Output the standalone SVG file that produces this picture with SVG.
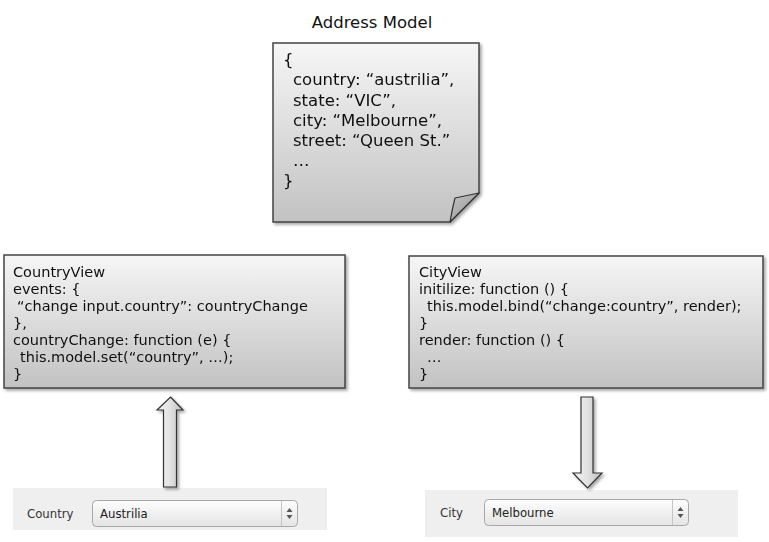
<svg xmlns="http://www.w3.org/2000/svg" width="769" height="542" viewBox="0 0 769 542">
<defs>
<linearGradient id="gBox" x1="0" y1="0" x2="0" y2="1">
<stop offset="0" stop-color="#f6f6f6"/>
<stop offset="1" stop-color="#c2c2c2"/>
</linearGradient>
<linearGradient id="gFold" x1="0" y1="0" x2="1" y2="1">
<stop offset="0" stop-color="#c8c8c8"/>
<stop offset="1" stop-color="#8e8e8e"/>
</linearGradient>
<linearGradient id="gArrow" x1="0" y1="0" x2="1" y2="0">
<stop offset="0" stop-color="#f4f4f4"/>
<stop offset="0.5" stop-color="#e2e2e2"/>
<stop offset="1" stop-color="#bdbdbd"/>
</linearGradient>
<linearGradient id="gSel" x1="0" y1="0" x2="0" y2="1">
<stop offset="0" stop-color="#fdfdfd"/>
<stop offset="1" stop-color="#e4e4e4"/>
</linearGradient>
<filter id="shadow" x="-5%" y="-5%" width="115%" height="115%">
<feGaussianBlur in="SourceAlpha" stdDeviation="1.5"/>
<feOffset dx="1.5" dy="1.5" result="b"/>
<feComponentTransfer><feFuncA type="linear" slope="0.35"/></feComponentTransfer>
<feMerge><feMergeNode/><feMergeNode in="SourceGraphic"/></feMerge>
</filter>
</defs>
<style>
.box{fill:url(#gBox);stroke:#444;stroke-width:1.5}
.t{font-family:"DejaVu Sans",Verdana,sans-serif;fill:#111}
.note{font-size:16.5px}
.code{font-size:14.5px}
.title{font-size:16.5px;fill:#111}
.arrow{fill:url(#gArrow);stroke:#333;stroke-width:1.2;stroke-linejoin:miter}
.panel{fill:#efefef}
.sel{fill:url(#gSel);stroke:#a8a8a8;stroke-width:1}
.lbl{font-family:"DejaVu Sans",Verdana,sans-serif;font-size:11.7px;fill:#333}
.val{font-family:"DejaVu Sans",Verdana,sans-serif;font-size:11.7px;fill:#222}
.sep{stroke:#c4c4c4;stroke-width:1}
.step{fill:#555}
</style>

<g id="title">
<text class="t title" x="372" y="28" text-anchor="middle">Address Model</text>
</g>

<g id="address-model" filter="url(#shadow)">
<path class="box" d="M273,43 H479 V193 L450,222 H273 Z"/>
<path d="M479,193 L455,198 Q452,210 450,222 Z" fill="url(#gFold)" stroke="#333" stroke-width="1.2" stroke-linejoin="round"/>
<text class="t note" x="283" y="65">{</text>
<text class="t note" x="293" y="85">country: “austrilia”,</text>
<text class="t note" x="293" y="106">state: “VIC”,</text>
<text class="t note" x="293" y="126">city: “Melbourne”,</text>
<text class="t note" x="293" y="146">street: “Queen St.”</text>
<text class="t note" x="293" y="166">…</text>
<text class="t note" x="283" y="186">}</text>
</g>

<g id="country-view" filter="url(#shadow)">
<rect class="box" x="4" y="255" width="341" height="133"/>
<text class="t code" x="13" y="277">CountryView</text>
<text class="t code" x="13" y="294">events: {</text>
<text class="t code" x="17" y="311">“change input.country”: countryChange</text>
<text class="t code" x="13" y="328">},</text>
<text class="t code" x="13" y="345">countryChange: function (e) {</text>
<text class="t code" x="20" y="362">this.model.set(“country”, …);</text>
<text class="t code" x="13" y="379">}</text>
</g>

<g id="city-view" filter="url(#shadow)">
<rect class="box" x="409" y="256" width="354" height="132"/>
<text class="t code" x="419" y="277">CityView</text>
<text class="t code" x="419" y="294">initilize: function () {</text>
<text class="t code" x="427" y="311">this.model.bind(“change:country”, render);</text>
<text class="t code" x="419" y="328">}</text>
<text class="t code" x="419" y="345">render: function () {</text>
<text class="t code" x="427" y="362">…</text>
<text class="t code" x="419" y="379">}</text>
</g>

<g id="country-form">
<rect class="panel" x="13" y="488" width="314" height="42"/>
<text class="lbl" x="27" y="518">Country</text>
<rect class="sel" x="92.5" y="500.5" width="205" height="26" rx="4"/>
<line class="sep" x1="281.5" y1="501" x2="281.5" y2="526"/>
<text class="val" x="100" y="518">Austrilia</text>
<path class="step" d="M286.5,512 L289.5,508 L292.5,512 Z M286.5,515 L289.5,519 L292.5,515 Z"/>
</g>

<g id="city-form">
<rect class="panel" x="425" y="490" width="313" height="47"/>
<text class="lbl" x="440" y="517">City</text>
<rect class="sel" x="484.5" y="499.5" width="204" height="26" rx="4"/>
<line class="sep" x1="672.5" y1="500" x2="672.5" y2="525"/>
<text class="val" x="492" y="517">Melbourne</text>
<path class="step" d="M677.5,511 L680.5,507 L683.5,511 Z M677.5,514 L680.5,518 L683.5,514 Z"/>
</g>

<g id="connectors" filter="url(#shadow)">
<path class="arrow" d="M170.5,397 L183,410 L176.5,410 L176.5,487 L163.5,487 L163.5,410 L157,410 Z"/>
<path class="arrow" d="M581,397 L593,397 L593,473 L602,473 L587.5,488 L573,473 L581,473 Z"/>
</g>
</svg>
